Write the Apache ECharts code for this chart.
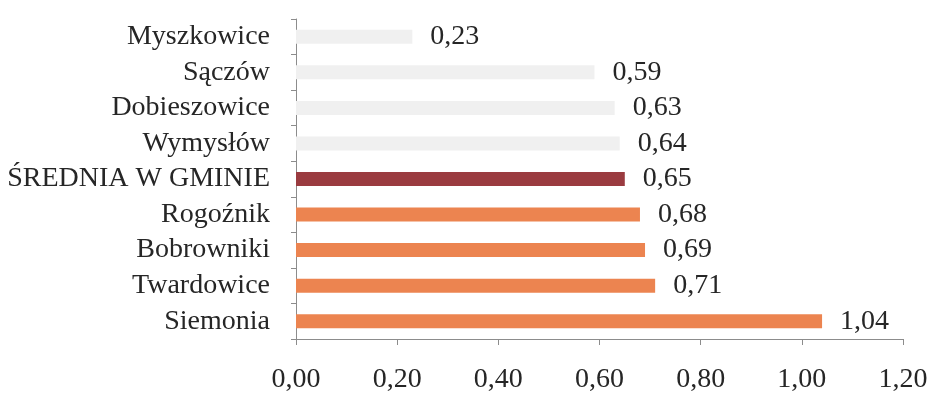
<!DOCTYPE html>
<html>
<head>
<meta charset="utf-8">
<script src="https://cdn.jsdelivr.net/npm/echarts@6/dist/echarts.min.js"></script>
<style>
html, body { margin: 0; padding: 0; background: #fff; }
#chart { width: 931px; height: 394px; }
</style>
</head>
<body>
<div id="chart"></div>
<script>
// kategorie od góry do dołu
var categories = ['Myszkowice', 'Sączów', 'Dobieszowice', 'Wymysłów', 'ŚREDNIA W GMINIE',
    'Rogoźnik', 'Bobrowniki', 'Twardowice', 'Siemonia'];
var values = [0.23, 0.59, 0.63, 0.64, 0.65, 0.68, 0.69, 0.71, 1.04];
var xTicks = [0, 0.2, 0.4, 0.6, 0.8, 1.0, 1.2];

var averageName = 'ŚREDNIA W GMINIE';
var averageValue = values[categories.indexOf(averageName)];

function fmt(v) {
    return v.toFixed(2).replace('.', ',');
}

var font = 'Liberation Serif';
var myChart = echarts.init(document.getElementById('chart'));
myChart.setOption({
    animation: false,
    grid: {
        left: 296,
        right: 28,
        top: 19,
        bottom: 54
    },
    xAxis: {
        type: 'value',
        min: xTicks[0],
        max: xTicks[xTicks.length - 1],
        interval: 0.2,
        splitLine: { show: false },
        axisLine: { show: true, lineStyle: { color: '#8c8c8c', width: 1 } },
        axisTick: { show: true, length: 6, lineStyle: { color: '#8c8c8c' } },
        axisLabel: {
            margin: 27,
            color: '#262626',
            fontFamily: font,
            fontSize: 28,
            hideOverlap: false,
            formatter: function (v) { return fmt(v); }
        }
    },
    yAxis: {
        type: 'category',
        inverse: true,
        data: categories,
        axisLine: { show: true, lineStyle: { color: '#8c8c8c', width: 1 } },
        axisTick: { show: true, length: 5, lineStyle: { color: '#8c8c8c' } },
        axisLabel: {
            interval: 0,
            hideOverlap: false,
            margin: 26,
            color: '#262626',
            fontFamily: font,
            fontSize: 28
        }
    },
    series: [{
        type: 'bar',
        data: values,
        barWidth: 14,
        itemStyle: {
            color: function (p) {
                if (p.name === averageName) return '#9a3b40';
                if (p.value < averageValue) return '#f0f0f0';
                return '#ec8450';
            }
        },
        label: {
            show: true,
            position: 'right',
            distance: 18,
            color: '#262626',
            fontFamily: font,
            fontSize: 28,
            formatter: function (p) { return fmt(p.value); }
        }
    }]
});
</script>
</body>
</html>
